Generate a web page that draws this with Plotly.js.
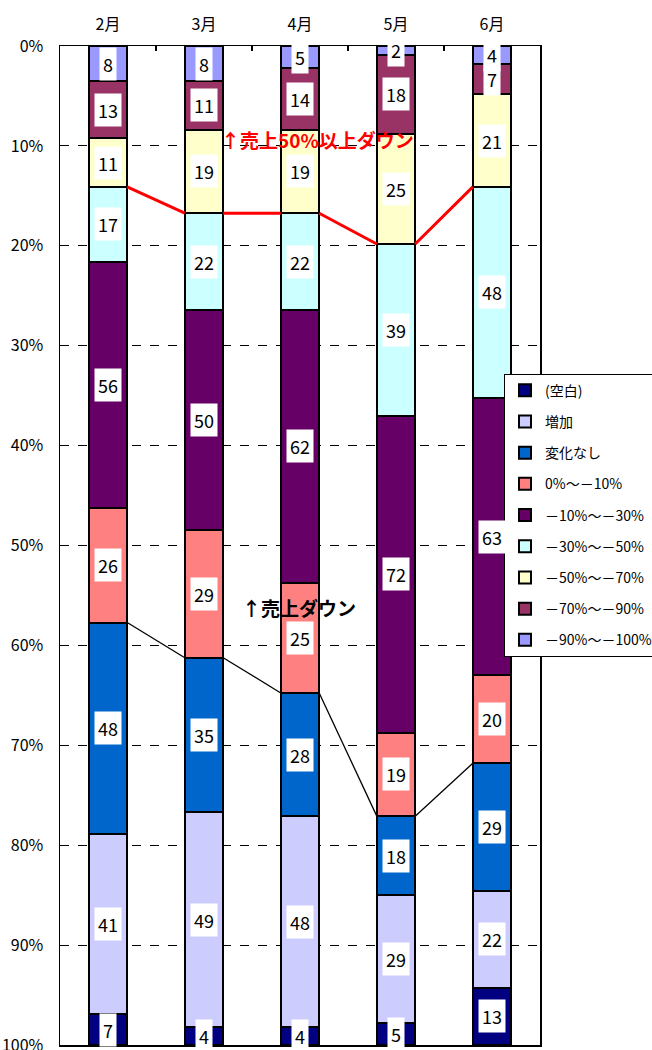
<!DOCTYPE html>
<html><head><meta charset="utf-8">
<script src="https://cdn.plot.ly/plotly-3.0.1.min.js"></script>
<style>html,body{margin:0;padding:0;background:#fff}#chart{width:652px;height:1050px}</style>
</head><body><div id="chart"></div>
<script>
const categories = ['2月','3月','4月','5月','6月'];
// series listed from top of the bar (0%) to bottom (100%)
const seriesNames = ['－90%～－100%','－70%～－90%','－50%～－70%','－30%～－50%','－10%～－30%','0%～－10%','変化なし','増加','(空白)'];
const sM90to100 = [8, 8, 5, 2, 4];
const sM70to90  = [13, 11, 14, 18, 7];
const sM50to70  = [11, 19, 19, 25, 21];
const sM30to50  = [17, 22, 22, 39, 48];
const sM10to30  = [56, 50, 62, 72, 63];
const s0toM10   = [26, 29, 25, 19, 20];
const sNoChange = [48, 35, 28, 18, 29];
const sIncrease = [41, 49, 48, 29, 22];
const sBlank    = [7, 4, 4, 5, 13];
const yTicks = [0,0.1,0.2,0.3,0.4,0.5,0.6,0.7,0.8,0.9,1];

const seriesValues = [sM90to100,sM70to90,sM50to70,sM30to50,sM10to30,s0toM10,sNoChange,sIncrease,sBlank];
const colors = ['#9999FF','#993366','#FFFFCC','#CCFFFF','#660066','#FF8080','#0066CC','#CCCCFF','#000080'];
const FONT = '"Noto Sans CJK JP", "Noto Sans", sans-serif';
const xs = categories.map((c,i)=>i);
const BW = 0.4;

const totals = xs.map(i => seriesValues.reduce((a,s)=>a+s[i],0));

const traces = seriesValues.map((vals,k)=>({
  type:'bar', x:xs, y:vals, name:seriesNames[k], width:BW,
  marker:{color:colors[k], line:{color:'#000', width:2}},
  legendgroup:'g'+k, legendrank:(seriesValues.length-k)*10, hoverinfo:'skip'
}));

function cumFrac(n,i){ let s=0; for(let k=0;k<n;k++) s+=seriesValues[k][i]; return s/totals[i]; }
function seriesLine(n){
  const x=[], y=[];
  for(let i=0;i<xs.length-1;i++){
    x.push(xs[i]+BW/2, xs[i+1]-BW/2, null);
    y.push(cumFrac(n,i), cumFrac(n,i+1), null);
  }
  return {x,y};
}
const red = seriesLine(3), blk = seriesLine(6);
traces.push({type:'scatter', mode:'lines', x:red.x, y:red.y, line:{color:'#FF0000', width:3}, showlegend:false, hoverinfo:'skip', connectgaps:false});
traces.push({type:'scatter', mode:'lines', x:blk.x, y:blk.y, line:{color:'#000', width:1.3}, showlegend:false, hoverinfo:'skip', connectgaps:false});

const annotations = [];
xs.forEach(i=>{
  let cum=0;
  seriesValues.forEach((vals)=>{
    const v=vals[i];
    annotations.push({x:xs[i], y:(cum+v/2)/totals[i], xref:'x', yref:'y', text:String(v), showarrow:false,
      font:{family:FONT, size:18, color:'#000'}, bgcolor:'#FFFFFF', borderpad:3});
    cum+=v;
  });
});
annotations.push({x:1.16, y:0.094, xref:'x', yref:'y', xanchor:'left', yanchor:'middle', text:'<b>↑売上50%以上ダウン</b>', showarrow:false, font:{family:FONT, size:19, color:'#FF0000'}});
annotations.push({x:1.38, y:0.5616, xref:'x', yref:'y', xanchor:'left', yanchor:'middle', text:'<b>↑売上ダウン</b>', showarrow:false, font:{family:FONT, size:19, color:'#000'}});

const layout = {
  width:652, height:1050,
  margin:{l:60, r:112, t:46, b:5, autoexpand:false},
  paper_bgcolor:'#fff', plot_bgcolor:'#fff',
  barmode:'stack', barnorm:'fraction',
  font:{family:FONT, size:14, color:'#000'},
  xaxis:{range:[-0.5,4.5], side:'top', tickmode:'array', tickvals:xs, ticktext:categories,
    ticks:'', showgrid:false, zeroline:false, showline:true, linecolor:'#000', linewidth:1.5, mirror:true,
    ticklabelstandoff:8, tickfont:{family:FONT, size:16, color:'#000'},
    minor:{tickmode:'array', tickvals:[0.5,1.5,2.5,3.5], ticks:'inside', ticklen:5, tickcolor:'#000', tickwidth:1.5, showgrid:false}},
  yaxis:{range:[1,0], tickmode:'array', tickvals:yTicks, tickformat:'.0%', ticks:'', showgrid:true,
    gridcolor:'#000', griddash:'dash', gridwidth:1, zeroline:false, showline:true, linecolor:'#000', linewidth:1.5, mirror:true,
    ticklabelstandoff:12, ticklabeloverflow:'allow', tickfont:{family:FONT, size:16, color:'#000'}},
  legend:{x:0.925, y:0.672, xanchor:'left', yanchor:'top', traceorder:'grouped', tracegroupgap:10,
    bgcolor:'#fff', bordercolor:'#000', borderwidth:1, font:{family:FONT, size:14, color:'#000'}},
  annotations:annotations,
  showlegend:true
};
Plotly.newPlot('chart', traces, layout, {displayModeBar:false, staticPlot:true});
</script></body></html>
